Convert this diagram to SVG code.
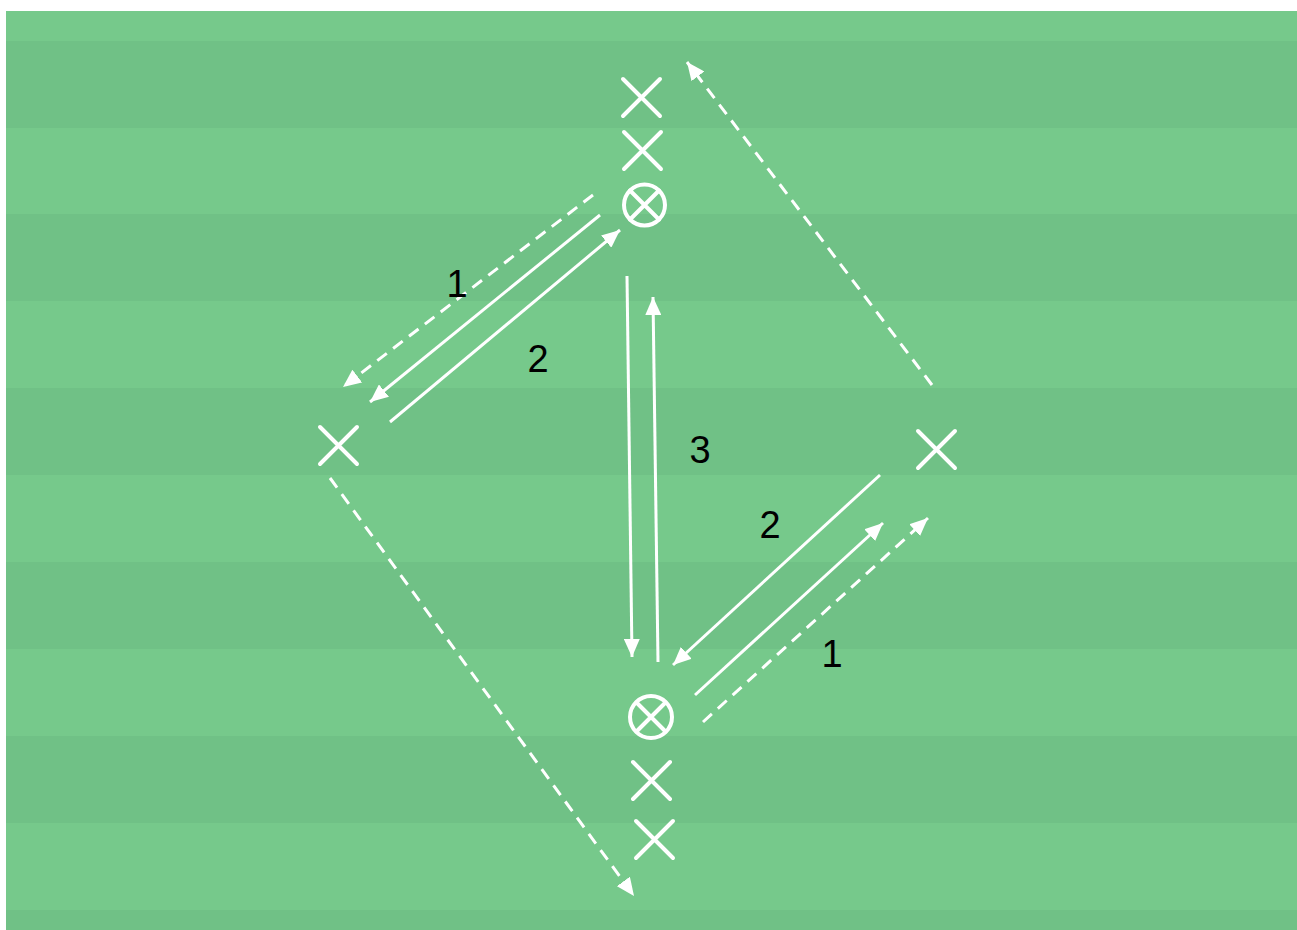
<svg xmlns="http://www.w3.org/2000/svg" width="1297" height="930" viewBox="0 0 1297 930">
<style>
.light{fill:#76c98b}
.dark{fill:#70c186}
.mk{stroke:#fff;stroke-width:4;stroke-linecap:round;fill:none}
.ln{stroke:#fff;stroke-width:3;fill:none}
.dash{stroke-dasharray:12 8}
.lbl{font-family:"Liberation Sans",Arial,sans-serif;font-size:38px;fill:#000;text-anchor:middle}
</style>
<defs>
<marker id="ah" viewBox="0 0 18 16" refX="18" refY="8" markerWidth="18" markerHeight="16" markerUnits="userSpaceOnUse" orient="auto">
<path d="M0,0 L18,8 L0,16 z" fill="#fff"/>
</marker>
</defs>
<rect width="1297" height="930" fill="#fff"/>
<g id="field">
<rect class="light" x="6" y="11" width="1291" height="919"/>
<rect class="dark" x="6" y="41" width="1291" height="87"/>
<rect class="dark" x="6" y="214" width="1291" height="87"/>
<rect class="dark" x="6" y="388" width="1291" height="87"/>
<rect class="dark" x="6" y="562" width="1291" height="87"/>
<rect class="dark" x="6" y="736" width="1291" height="87"/>
<rect class="dark" x="6" y="910" width="1291" height="20"/>
</g>
<g id="connectors">
<line class="ln dash" x1="593" y1="195" x2="343" y2="387" marker-end="url(#ah)"/>
<line class="ln" x1="600" y1="215" x2="370" y2="402" marker-end="url(#ah)"/>
<line class="ln" x1="390" y1="422" x2="620" y2="230" marker-end="url(#ah)"/>
<line class="ln" x1="627" y1="276" x2="632" y2="657" marker-end="url(#ah)"/>
<line class="ln" x1="658" y1="662" x2="653" y2="297" marker-end="url(#ah)"/>
<line class="ln" x1="880" y1="475" x2="673" y2="665" marker-end="url(#ah)"/>
<line class="ln" x1="695" y1="695" x2="883" y2="523" marker-end="url(#ah)"/>
<line class="ln dash" x1="703" y1="722" x2="928" y2="518" marker-end="url(#ah)"/>
<line class="ln dash" x1="932" y1="385" x2="687" y2="62" marker-end="url(#ah)"/>
<line class="ln dash" x1="330" y1="478" x2="634" y2="896" marker-end="url(#ah)"/>
</g>
<g id="labels">
<text class="lbl" x="457" y="297">1</text>
<text class="lbl" x="538" y="372">2</text>
<text class="lbl" x="700" y="463">3</text>
<text class="lbl" x="770" y="538">2</text>
<text class="lbl" x="832" y="667">1</text>
</g>
<g id="top-x1"><path class="mk" d="M623,79 L660,116 M660,79 L623,116"/></g>
<g id="top-x2"><path class="mk" d="M624,132 L661,169 M661,132 L624,169"/></g>
<g id="top-ball"><circle class="mk" cx="644.5" cy="205" r="20.5" stroke-width="3.5"/><path class="mk" d="M630,190.5 L659,219.5 M659,190.5 L630,219.5" stroke-width="3.5"/></g>
<g id="left-x"><path class="mk" d="M320,427 L357,464 M357,427 L320,464"/></g>
<g id="right-x"><path class="mk" d="M918,431 L955,468 M955,431 L918,468"/></g>
<g id="bottom-ball"><circle class="mk" cx="651" cy="717" r="21" stroke-width="3.5"/><path class="mk" d="M636.5,702.5 L665.5,731.5 M665.5,702.5 L636.5,731.5" stroke-width="3.5"/></g>
<g id="bottom-x1"><path class="mk" d="M633,762 L670,799 M670,762 L633,799"/></g>
<g id="bottom-x2"><path class="mk" d="M636,821 L673,858 M673,821 L636,858"/></g>
</svg>
